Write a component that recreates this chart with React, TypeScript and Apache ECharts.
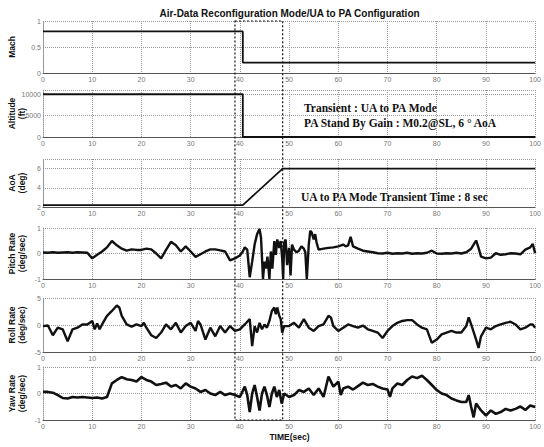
import { useEffect, useRef } from "react";
import * as echarts from "echarts";

const TITLE = "Air-Data Reconfiguration Mode/UA to PA Configuration";
const X_LABEL = "TIME(sec)";
const PANEL_NAMES: string[][] = [
  ["Mach"],
  ["Altitude", "(ft)"],
  ["AoA", "(deg)"],
  ["Pitch Rate", "(deg/sec)"],
  ["Roll Rate", "(deg/sec)"],
  ["Yaw Rate", "(deg/sec)"],
];
const Y_MIN = [0, 0, 2, -1, -5, -1];
const Y_MAX = [1, 11000, 7, 1, 5, 1];
const Y_INTERVAL = [0.5, 5000, 2, 1, 5, 1];
const Y_SHOWN_TICKS: number[][] = [
  [0, 0.5, 1],
  [0, 5000, 10000],
  [2, 4, 6],
  [-1, 0, 1],
  [-5, 0, 5],
  [-1, 0, 1],
];
const X_MIN = 0;
const X_MAX = 100;
const X_INTERVAL = 10;

const ANNOTATION_ALT = ["Transient : UA to PA Mode", "PA Stand By Gain : M0.2@SL, 6 ° AoA"];
const ANNOTATION_AOA = "UA to PA Mode Transient Time : 8 sec";
const TRANSIENT_BOX = [39, 48.7];

const mach: [number, number][] = [[0, 0.8], [40.6, 0.8], [40.6, 0.2], [100, 0.2]];
const altitude: [number, number][] = [[0, 10000], [40.6, 10000], [40.6, 0], [100, 0]];
const aoa: [number, number][] = [[0, 2.2], [40.6, 2.2], [48.7, 6], [100, 6]];

const pitchRate: [number, number][] = [
  [0, 0.04], [1, 0.03], [2, 0.05], [3, 0.03], [4, 0.04], [5, 0.05], [6, 0.03], [7, 0.05], [8, 0.04], [9, 0.03],
  [10, -0.19], [11, -0.05], [12, 0.08], [13, 0.24], [14, 0.49], [15, 0.32], [16, 0.19], [17, 0.11], [18, 0.16], [19, 0.14],
  [20, 0.14], [21, 0.19], [22, 0.16], [23, 0.0], [24, -0.19], [25, 0.14], [26, 0.46], [27, 0.32], [28, 0.08], [29, 0.28],
  [30, 0.08], [31, -0.13], [32, -0.03], [33, 0.08], [34, 0.16], [35, 0.16], [36, 0.12], [37, 0.08], [38, -0.27], [39, -0.19],
  [40, -0.08], [40.6, 0.08], [41, 0.24], [41.5, 0.15], [42, -0.93], [42.5, -0.32], [43, 0.35], [43.5, 0.76], [44, 0.96],
  [44.3, 0.62], [44.7, -1.0], [45, -0.32], [45.3, -0.59], [45.6, -0.12], [46, -1.0], [46.3, 0.08], [46.6, -0.59], [47, 0.49],
  [47.3, -0.05], [47.6, 0.55], [48, 0.22], [48.3, 0.49], [48.6, -0.19], [48.8, -1.0], [49, 0.42], [49.3, 0.55], [49.6, -0.46],
  [50, 0.22], [50.3, -0.86], [50.6, 0.35], [51, 0.15], [51.5, 0.05], [52, 0.11], [52.5, 0.28], [53, 0.19], [53.3, 0.05],
  [53.6, -1.0], [54, 0.35], [54.3, 0.89], [54.6, 0.82], [55, 0.55], [55.3, 0.76], [55.6, 0.42], [56, 0.15], [57, 0.19],
  [58, 0.22], [59, 0.24], [60, 0.28], [61, 0.35], [61.5, 0.28], [62, 0.32], [62.5, 0.65], [63, 0.28], [64, 0.19], [65, 0.11],
  [66, 0.08], [67, 0.05], [68, 0.01], [69, 0.0], [70, 0.03], [71, -0.01], [72, 0.01], [73, 0.0], [74, 0.03], [75, -0.01],
  [76, 0.01], [77, 0.0], [78, 0.03], [79, 0.11], [80, 0.0], [81, -0.01], [82, 0.01], [83, 0.0], [84, 0.03], [85, 0.0],
  [86, 0.05], [87, 0.19], [88, 0.51], [88.5, 0.22], [89, -0.12], [90, -0.19], [91, -0.16], [92, 0.01], [93, -0.05],
  [94, -0.03], [95, 0.01], [96, 0.0], [97, -0.03], [98, 0.15], [99, 0.24], [99.5, 0.38], [100, 0.01],
];

const rollRate: [number, number][] = [
  [0, -0.2], [1, -0.1], [2, -1.9], [3, -0.5], [4, -0.8], [5, -3.0], [6, -0.8], [7, -0.5], [8, 0.1], [9, 0.1],
  [10, 0.75], [10.5, -0.8], [11, 0.3], [11.5, -0.8], [12, 0.1], [13, 1.7], [14, 2.6], [15, 3.6], [15.5, 3.25], [16, 1.7],
  [17, 0.1], [18, -0.3], [19, 0.1], [20, -0.2], [20.5, 0.4], [21, -0.5], [22, -1.9], [23, -2.4], [24, -1.4], [25, 0.1],
  [26, -0.8], [27, 0.4], [28, -1.4], [29, -0.2], [30, 0.4], [31, -1.1], [31.5, 0.75], [32, 0.1], [33, -2.7], [34, -0.5],
  [35, -2.1], [36, -0.2], [37, -1.4], [38, -0.2], [39, -1.1], [40, -0.8], [41, 0.1], [42, 1.1], [42.5, -3.9], [43, -0.2],
  [43.5, -1.4], [44, 0.4], [44.5, -0.8], [45, 0.1], [45.5, -0.5], [46, 0.75], [46.5, 2.6], [47, 3.25], [47.3, 2.0],
  [47.6, 3.25], [48, 1.7], [48.3, 1.1], [48.6, -1.4], [49, -0.2], [50, -0.2], [51, 0.4], [52, -0.5], [53, 1.1], [54, -0.5],
  [55, -1.1], [56, -0.2], [57, 0.1], [58, 1.7], [58.5, 1.4], [59, -0.2], [60, -1.1], [61, -0.5], [62, 0.1], [63, -0.2],
  [64, -0.5], [65, -0.1], [66, -0.8], [67, -1.1], [68, -1.4], [69, -2.4], [70, -1.1], [71, -0.2], [72, 0.4], [73, 0.75],
  [74, 0.9], [75, 0.9], [76, 0.1], [77, -0.5], [78, -0.8], [79, -3.3], [80, -2.7], [81, -1.75], [82, -1.4], [83, -1.1],
  [84, -1.4], [85, -1.4], [86, -0.2], [86.5, 1.4], [87, 0.1], [88, -2.7], [88.5, -4.25], [89, -2.1], [90, -0.5], [91, -0.8],
  [92, -0.2], [93, 0.1], [94, 0.4], [95, 0.6], [96, 0.1], [97, -0.8], [98, -0.5], [99, 0.1], [99.5, 0.1], [100, -0.5],
];

const yawRate: [number, number][] = [
  [0, 0.06], [1, 0.06], [2, 0.03], [3, -0.06], [4, -0.17], [5, -0.19], [6, -0.13], [7, -0.15], [8, -0.13], [9, -0.15],
  [10, -0.17], [11, -0.15], [12, -0.19], [13, -0.13], [14, 0.38], [15, 0.51], [16, 0.62], [17, 0.54], [18, 0.51], [19, 0.45],
  [20, 0.62], [21, 0.51], [22, 0.45], [23, 0.32], [24, 0.36], [25, 0.41], [26, 0.26], [27, 0.32], [28, 0.19], [29, 0.38],
  [30, 0.26], [31, 0.19], [32, 0.06], [33, 0.13], [34, 0.0], [35, -0.06], [36, 0.06], [37, -0.06], [38, 0.0], [39, -0.06],
  [40, -0.13], [41, 0.26], [41.5, -0.06], [42, -0.7], [42.5, 0.0], [43, 0.32], [43.5, -0.13], [44, -0.64], [44.5, 0.0],
  [45, 0.26], [45.5, -0.06], [46, -0.51], [46.5, 0.0], [47, 0.26], [47.5, -0.13], [48, 0.13], [48.5, -0.38], [49, 0.0],
  [50, -0.13], [51, -0.06], [52, 0.13], [53, 0.06], [54, 0.19], [55, -0.06], [56, 0.19], [57, -0.13], [58, 0.64], [59, 0.26],
  [60, 0.45], [60.5, -0.06], [61, 0.19], [62, 0.26], [63, 0.15], [64, 0.28], [65, 0.41], [66, 0.32], [67, 0.36], [68, 0.26],
  [69, 0.19], [70, 0.15], [70.5, -0.13], [71, 0.19], [72, 0.38], [73, 0.32], [74, 0.51], [75, 0.64], [76, 0.58], [77, 0.67],
  [78, 0.51], [79, 0.32], [80, 0.13], [81, 0.0], [82, -0.06], [83, -0.19], [84, -0.26], [85, -0.32], [86, -0.32],
  [86.5, -0.06], [87, -0.51], [87.5, -0.9], [88, -0.38], [89, -0.64], [90, -0.83], [91, -0.64], [92, -0.77], [93, -0.7],
  [94, -0.58], [95, -0.64], [96, -0.58], [97, -0.49], [98, -0.62], [99, -0.45], [100, -0.51],
];

const SERIES_DATA = [mach, altitude, aoa, pitchRate, rollRate, yawRate];
const SERIES_WIDTH = [1.8, 1.8, 1.8, 2.4, 2.4, 2.6];

const GRID_TOPS = [21, 90, 159, 228, 298, 367];
const GRID_HEIGHTS = [52, 47, 48, 51, 54, 53];
const GRID_LEFT = 43;
const GRID_RIGHT = 8;
const W = 544;
const H = 447;

const SANS = "'Liberation Sans', Arial, sans-serif";
const SERIF = "'Liberation Serif', 'Times New Roman', serif";

export default function App() {
  const ref = useRef<HTMLDivElement>(null);
  useEffect(() => {
    if (!ref.current) return;
    const chart = echarts.init(ref.current, undefined, { renderer: "svg" });
    const n = SERIES_DATA.length;
    const grids = GRID_TOPS.map((top, i) => ({
      left: GRID_LEFT,
      right: GRID_RIGHT,
      top,
      height: GRID_HEIGHTS[i],
      show: false,
    }));
    const xAxes = grids.map((_, i) => ({
      type: "value" as const,
      gridIndex: i,
      min: X_MIN,
      max: X_MAX,
      interval: X_INTERVAL,
      axisLine: { show: true, onZero: false, lineStyle: { color: "#555", width: 1 } },
      axisTick: { show: false },
      axisLabel: { fontSize: 7, color: "#777", margin: 3, fontFamily: SANS },
      splitLine: { show: true, lineStyle: { type: "dotted" as const, color: "#999", width: 1 } },
    }));
    const yAxes = grids.map((_, i) => ({
      type: "value" as const,
      gridIndex: i,
      min: Y_MIN[i],
      max: Y_MAX[i],
      interval: Y_INTERVAL[i],
      axisLine: { show: true, onZero: false, lineStyle: { color: "#999", type: "dotted" as const } },
      axisTick: { show: false },
      axisLabel: {
        fontSize: 7,
        color: "#777",
        margin: 2,
        fontFamily: SANS,
        formatter: (v: number) => (Y_SHOWN_TICKS[i].some((t) => Math.abs(t - v) < 1e-9) ? String(v) : ""),
      },
      splitLine: { show: true, lineStyle: { type: "dotted" as const, color: "#999", width: 1 } },
    }));
    const series = SERIES_DATA.map((data, i) => ({
      type: "line" as const,
      xAxisIndex: i,
      yAxisIndex: i,
      data,
      showSymbol: false,
      symbol: "none",
      clip: true,
      lineStyle: { color: "#111", width: SERIES_WIDTH[i] },
    }));

    const centerX = GRID_LEFT + (W - GRID_LEFT - GRID_RIGHT) / 2;
    const nameTexts = PANEL_NAMES.map((lines, i) => ({
      type: "text" as const,
      x: 12 + (lines.length - 1) * 5,
      y: GRID_TOPS[i] + GRID_HEIGHTS[i] / 2,
      rotation: Math.PI / 2,
      style: {
        text: lines.join("\n"),
        fontSize: 8.5,
        fontWeight: "bold" as const,
        fontFamily: SANS,
        lineHeight: 10,
        fill: "#111",
        align: "center" as const,
        verticalAlign: "middle" as const,
      },
    }));

    chart.setOption({
      animation: false,
      backgroundColor: "#fff",
      grid: grids,
      xAxis: xAxes,
      yAxis: yAxes,
      series,
    });

    const p1 = chart.convertToPixel({ xAxisIndex: 0, yAxisIndex: 0 }, [TRANSIENT_BOX[0], Y_MAX[0]]);
    const p2 = chart.convertToPixel({ xAxisIndex: n - 1, yAxisIndex: n - 1 }, [TRANSIENT_BOX[1], Y_MIN[n - 1]]);

    const annotation = (text: string, x: number, y: number) => ({
      type: "text" as const,
      x,
      y,
      style: {
        text,
        fontSize: 11.5,
        fontWeight: "bold" as const,
        fontFamily: SERIF,
        fill: "#111",
        align: "left" as const,
        verticalAlign: "middle" as const,
      },
    });

    chart.setOption({
      graphic: [
        {
          type: "text",
          x: centerX,
          y: 13,
          style: {
            text: TITLE,
            fontSize: 10,
            fontWeight: "bold",
            fontFamily: SANS,
            fill: "#111",
            align: "center",
            verticalAlign: "middle",
          },
        },
        {
          type: "text",
          x: centerX,
          y: 437,
          style: {
            text: X_LABEL,
            fontSize: 8.5,
            fontWeight: "bold",
            fontFamily: SANS,
            fill: "#111",
            align: "center",
            verticalAlign: "middle",
          },
        },
        ...nameTexts,
        annotation(ANNOTATION_ALT[0], 304, 108),
        annotation(ANNOTATION_ALT[1], 304, 123),
        annotation(ANNOTATION_AOA, 301, 197),
        {
          type: "rect",
          shape: { x: p1[0], y: p1[1], width: p2[0] - p1[0], height: p2[1] - p1[1] },
          style: { fill: "none", stroke: "#111", lineWidth: 1.2, lineDash: [2, 2] },
          z: 100,
        },
      ],
    });

    return () => chart.dispose();
  }, []);
  return (
    <div
      ref={ref}
      style={{ position: "absolute", left: 0, top: 0, width: W, height: H, background: "#fff" }}
    />
  );
}
